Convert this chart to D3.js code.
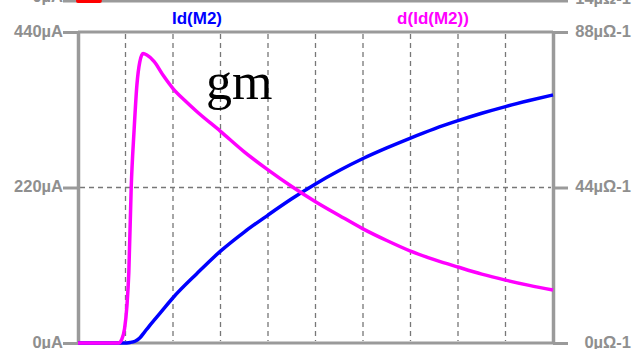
<!DOCTYPE html>
<html>
<head>
<meta charset="utf-8">
<script src="https://cdn.jsdelivr.net/npm/d3@7"></script>
<style>
  html, body { margin: 0; padding: 0; background: #fff; }
  svg { display: block; }
  .lbl { font-family: "Liberation Sans", Arial, sans-serif; font-weight: bold; font-size: 16.5px; fill: #8f8f8f; }
  .hdr { font-family: "Liberation Sans", Arial, sans-serif; font-weight: bold; font-size: 17px; }
</style>
</head>
<body>
<script>
// Drain current Id(M2) against gate voltage (V, µA)
const idVgs = [0, 0.95, 1.1, 1.2, 1.3, 1.4, 1.5, 1.75, 2, 2.5, 3, 3.5, 4, 4.5, 5,
               5.5, 6, 6.5, 7, 7.5, 8, 8.5, 9, 9.5, 10];
const idVal = [0, 0, 0.8, 2.5, 7, 15.5, 24, 44, 64, 98, 130, 157, 181, 204, 225,
               244, 261, 276, 290, 303, 314.5, 325, 334.5, 343, 351];

// Transconductance d(Id(M2)) against gate voltage (V, µΩ-1)
const gmVgs = [0, 0.85, 0.92, 0.98, 1.03, 1.07, 1.12, 1.18, 1.24, 1.3, 1.37, 1.45, 1.6, 1.8,
               2, 2.25, 2.5, 3, 3.5, 4, 4.5, 5, 5.5, 6, 6.5, 7, 7.5, 8, 8.5, 9, 9.5, 10];
const gmVal = [0, 0, 1, 4, 10.5, 20, 44, 60, 73, 79.5, 81.9, 81.5, 79.7, 75.6,
               72.0, 68.6, 65.5, 59.9, 54.1, 49.0, 44.3, 40.0, 36.1, 32.3, 29.0, 26.0, 23.6, 21.5, 19.5, 17.8, 16.3, 15.0];

// Trace of the pane above (only its bottom edge is in view)
const upperVgs = [0, 0.46];
const upperVal = [0, 0];

// Axis ticks and labels
const leftTicks = [0, 220, 440];
const rightTicks = [0, 44, 88];
const gridV = [1, 2, 3, 4, 5, 6, 7, 8, 9];
const gridI = [220];
const traceNames = ["Id(M2)", "d(Id(M2))"];
const traceColors = ["#0000ff", "#ff00ff"];
const upperLeftLabel = "0µA";
const upperRightLabel = "14µΩ-1";

const W = 637, H = 349;
const svg = d3.select("body").append("svg").attr("width", W).attr("height", H);
svg.append("rect").attr("width", W).attr("height", H).attr("fill", "#fff");

const x = d3.scaleLinear().domain([0, 10]).range([78, 553]);
const yI = d3.scaleLinear().domain([0, 440]).range([343, 32]);
const yG = d3.scaleLinear().domain([0, 88]).range([343, 32]);
const yU = d3.scaleLinear().domain([0, 14]).range([1, -300]);

const frame = "#9a9a9a";
const tickLen = 15;

// ---- upper pane (bottom edge only) ----
svg.append("line")
  .attr("x1", x(0) - tickLen).attr("x2", x(10) + tickLen)
  .attr("y1", yU(0)).attr("y2", yU(0))
  .attr("stroke", frame).attr("stroke-width", 3);
svg.append("text").attr("class", "lbl")
  .attr("x", x(0) - tickLen).attr("y", yU(0) + 1)
  .attr("text-anchor", "end").text(upperLeftLabel);
svg.append("text").attr("class", "lbl")
  .attr("x", 631).attr("y", yU(0) + 3)
  .attr("text-anchor", "end").text(upperRightLabel);
svg.append("path")
  .datum(upperVgs.map((v, i) => [v, upperVal[i]]))
  .attr("d", d3.line().x(d => x(d[0])).y(d => yU(d[1])))
  .attr("stroke", "#ff0000").attr("stroke-width", 4)
  .attr("stroke-linecap", "round").attr("fill", "none");

// ---- trace names ----
svg.append("text").attr("class", "hdr")
  .attr("x", 197).attr("y", 24).attr("text-anchor", "middle")
  .attr("fill", traceColors[0]).text(traceNames[0]);
svg.append("text").attr("class", "hdr")
  .attr("x", 433).attr("y", 24).attr("text-anchor", "middle")
  .attr("fill", traceColors[1]).text(traceNames[1]);

// ---- grid ----
const grid = svg.append("g").attr("stroke", "#777").attr("stroke-width", 1.3)
  .attr("stroke-dasharray", "5,4");
grid.selectAll("line.v").data(gridV).join("line").attr("class", "v")
  .attr("x1", d => x(d)).attr("x2", d => x(d))
  .attr("y1", yI(440) + 2).attr("y2", yI(0) - 2);
grid.selectAll("line.h").data(gridI).join("line").attr("class", "h")
  .attr("x1", x(0) + 2).attr("x2", x(10) - 2)
  .attr("y1", d => yI(d)).attr("y2", d => yI(d));

// ---- frame: top and bottom edges ----
[440, 0].forEach(v => {
  svg.append("line")
    .attr("x1", x(0)).attr("x2", x(10))
    .attr("y1", yI(v)).attr("y2", yI(v))
    .attr("stroke", frame).attr("stroke-width", 3);
});

// ---- left axis (Id) ----
const gl = svg.append("g").attr("transform", `translate(${x(0)},0)`)
  .call(d3.axisLeft(yI).tickValues(leftTicks).tickSize(tickLen).tickSizeOuter(0)
    .tickPadding(0).tickFormat(d => d + "µA"));
gl.select(".domain").attr("stroke", frame).attr("stroke-width", 3.5);
gl.selectAll(".tick line").attr("stroke", frame).attr("stroke-width", 3);
gl.selectAll(".tick text").attr("class", "lbl").attr("dy", "0.33em").attr("y", -1);

// ---- right axis (gm) ----
const gr = svg.append("g").attr("transform", `translate(${x(10)},0)`)
  .call(d3.axisRight(yG).tickValues(rightTicks).tickSize(tickLen).tickSizeOuter(0)
    .tickFormat(d => d + "µΩ-1"));
gr.select(".domain").attr("stroke", frame).attr("stroke-width", 3.5);
gr.selectAll(".tick line").attr("stroke", frame).attr("stroke-width", 3);
gr.selectAll(".tick text").attr("class", "lbl").attr("text-anchor", "end")
  .attr("x", 631 - x(10)).attr("dy", "0.33em").attr("y", -1);

// ---- traces ----
const lineI = d3.line().x((d, i) => x(idVgs[i])).y(d => yI(d)).curve(d3.curveMonotoneX);
const lineG = d3.line().x((d, i) => x(gmVgs[i])).y(d => yG(d)).curve(d3.curveMonotoneX);
svg.append("path").datum(idVal).attr("d", lineI)
  .attr("fill", "none").attr("stroke", traceColors[0]).attr("stroke-width", 3.5)
  .attr("stroke-linejoin", "round");
svg.append("path").datum(gmVal).attr("d", lineG)
  .attr("fill", "none").attr("stroke", traceColors[1]).attr("stroke-width", 3.5)
  .attr("stroke-linejoin", "round");

// ---- annotation ----
svg.append("text")
  .attr("x", 206).attr("y", 99)
  .attr("font-family", "'Liberation Serif', 'Times New Roman', serif")
  .attr("font-size", 52).attr("fill", "#000").text("gm");
</script>
</body>
</html>
